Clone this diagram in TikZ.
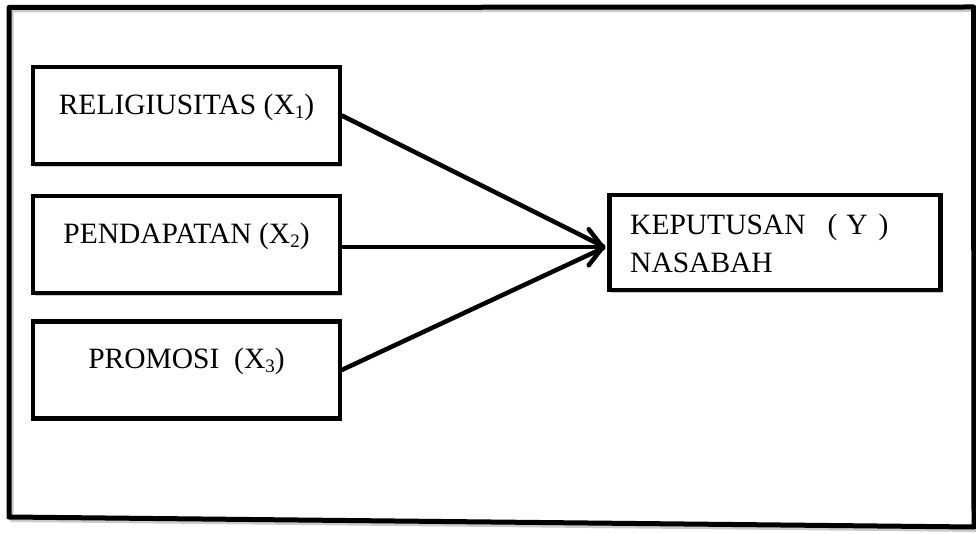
\documentclass[tikz,border=0pt]{standalone}
\usepackage{fontspec}
\setmainfont{Liberation Serif}
\usetikzlibrary{arrows.meta,shadows,calc}
\newcommand{\lowidx}[1]{\raisebox{-4pt}{\fontsize{19}{19}\selectfont #1}}
\begin{document}
\begin{tikzpicture}[x=1pt,y=-1pt,
  lbl/.style={font=\fontsize{29.5}{38}\selectfont},
  softshadow/.style={drop shadow={shadow xshift=2pt,shadow yshift=-2.5pt,fill=black!45,opacity=.45}},
  varbox/.style={draw,line width=4.5pt,fill=white,inner sep=0pt,minimum width=307pt,
     text height=47pt,text depth=50pt,anchor=north,lbl,softshadow},
  resbox/.style={draw,line width=4.5pt,fill=white,inner sep=0pt,minimum width=331pt,
     minimum height=95pt,anchor=north west,softshadow},
  link/.style={line width=4.5pt,line cap=round}
]
\useasboundingbox (0,0) rectangle (976,534);
% outer frame
\draw[line width=4pt,black!35,opacity=.6,line join=round]
  (11.5,10.5) -- (976,10) -- (976.5,530) -- (11.5,520) -- cycle;
\draw[line width=5pt,line join=round]
  (9,7.5) -- (973.5,7) -- (974,527) -- (9,517) -- cycle;
% boxes
\node[varbox] (x1) at (186.5,65) {RELIGIUSITAS (X\lowidx{1})};
\node[varbox] (x2) at (186.5,194) {PENDAPATAN (X\lowidx{2})};
\node[varbox] (x3) at (186.5,319) {PROMOSI \ (X\lowidx{3})};
\node[resbox] (ky) at (607,193) {};
\node[lbl,anchor=base west,inner sep=0pt] (kyl1) at ($(ky.north west)+(23,42)$)
  {KEPUTUSAN\hspace{22pt}(\hspace{9pt}Y\hspace{11pt})};
\node[lbl,anchor=base west,inner sep=0pt] (kyl2) at ($(ky.north west)+(23,80)$) {NASABAH};
% connectors
\coordinate (tip) at ($(ky.west)+(-2,4.5)$);
\draw[link,shorten >=2pt] (x1.east) -- (tip);
\draw[link,shorten >=2pt] (x3.east) -- (tip);
\draw[link,-{Straight Barb[length=14pt,width=36pt,round]}] (x2.east |- tip) -- (tip);
\end{tikzpicture}
\end{document}
